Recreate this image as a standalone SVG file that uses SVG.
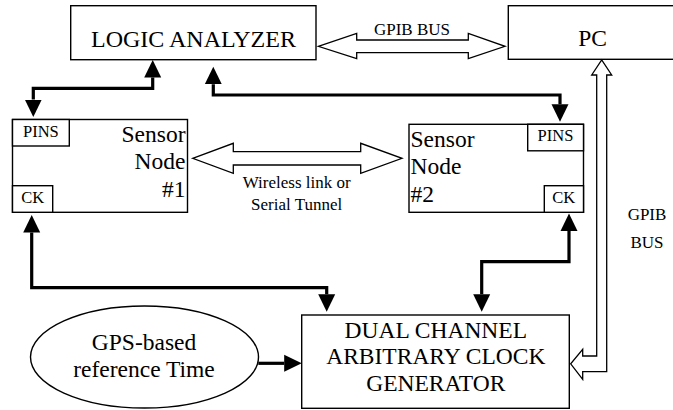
<svg xmlns="http://www.w3.org/2000/svg" width="673" height="410" viewBox="0 0 673 410">
<style>
.box{fill:#fff;stroke:#000;stroke-width:1.4}
.t{font-family:"Liberation Serif","Times New Roman",serif;fill:#000}
.big{font-size:23.5px}
.sm{font-size:16.5px}
.lb{font-size:17px}
.c{text-anchor:middle}
.conn{fill:none;stroke:#000;stroke-width:3.2;marker-start:url(#ah);marker-end:url(#ah)}
.one{fill:none;stroke:#000;stroke-width:3.2;marker-end:url(#ah)}
.bus{fill:#fff;stroke:#000;stroke-width:1.3;stroke-linejoin:miter}
</style>
<defs>
<marker id="ah" markerUnits="userSpaceOnUse" markerWidth="18" markerHeight="18" viewBox="0 -9 18 18" refX="0" refY="0" orient="auto-start-reverse">
<path d="M0,-8.5 L17.5,0 L0,8.5 Z" fill="#000"/>
</marker>
</defs>
<g id="logic-analyzer">
<rect class="box" x="70.7" y="5.7" width="245.3" height="54"/>
<text class="t big c" x="193.5" y="47" style="font-size:24px">LOGIC ANALYZER</text>
</g>
<g id="pc">
<rect class="box" x="508.3" y="5.7" width="170" height="53.6"/>
<text class="t big c" x="592.5" y="46">PC</text>
</g>
<g id="sensor-node-1">
<rect class="box" x="12.5" y="119.5" width="175" height="92.8"/>
<rect class="box" x="12.5" y="119.5" width="56.8" height="26.5"/>
<rect class="box" x="12.5" y="185.7" width="40.2" height="26.6"/>
<text class="t sm c" x="40.9" y="137">PINS</text>
<text class="t sm c" x="32.6" y="202.5">CK</text>
<text class="t big" x="185.5" y="142.3" text-anchor="end">Sensor</text>
<text class="t big" x="185.5" y="169" text-anchor="end">Node</text>
<text class="t big" x="185.5" y="196.7" text-anchor="end">#1</text>
</g>
<g id="sensor-node-2">
<rect class="box" x="409" y="124.3" width="174.5" height="88"/>
<rect class="box" x="527.7" y="124.3" width="55.8" height="26.5"/>
<rect class="box" x="544.3" y="185.7" width="39.2" height="26.6"/>
<text class="t sm c" x="555.5" y="141">PINS</text>
<text class="t sm c" x="563.8" y="203.3">CK</text>
<text class="t big" x="410.5" y="146.7">Sensor</text>
<text class="t big" x="410.5" y="174.3">Node</text>
<text class="t big" x="410.5" y="201.7">#2</text>
</g>
<g id="clock-generator">
<rect class="box" x="301.7" y="315" width="267.6" height="93.3"/>
<text class="t big c" x="435.8" y="338.3">DUAL CHANNEL</text>
<text class="t big c" x="435.8" y="364.3">ARBITRARY CLOCK</text>
<text class="t big c" x="435.8" y="391">GENERATOR</text>
</g>
<g id="gps-reference">
<ellipse class="box" cx="144.5" cy="357" rx="114" ry="51"/>
<text class="t big c" x="144" y="350">GPS-based</text>
<text class="t big c" x="144" y="376.7">reference Time</text>
</g>
<g id="connectors">
<path class="conn" d="M152.7,77.5 V88.3 H33.3 V99.5"/>
<path class="conn" d="M213.3,84.2 V95 H560 V104.2"/>
<path class="conn" d="M31.7,232.5 V287.7 H326.7 V294.2"/>
<path class="conn" d="M569,231 V261.7 H481.7 V294.2"/>
<path class="one" d="M258.3,363.3 H284.2"/>
<path class="bus" d="M318.3,46.3 L356.7,33.5 L356.7,40 L468.3,40 L468.3,33.5 L505,46.3 L468.3,58.5 L468.3,52.7 L356.7,52.7 L356.7,58.5 Z"/>
<path class="bus" d="M192.7,158.3 L233.3,143.3 L233.3,151.7 L360.7,151.7 L360.7,143.3 L402,158.3 L360.7,173.3 L360.7,165 L233.3,165 L233.3,173.3 Z"/>
<path class="bus" d="M596.7,356 L596.7,75 L591.7,75 L601.7,60 L611.7,75 L606.7,75 L606.7,371.7 L582.7,371.7 L582.7,379.3 L570.7,363.8 L582.7,349.3 L582.7,356 Z"/>
<text class="t lb c" x="412" y="35">GPIB BUS</text>
<text class="t lb c" x="296.7" y="188.3">Wireless link or</text>
<text class="t lb c" x="296.7" y="210">Serial Tunnel</text>
<text class="t lb c" x="647" y="220">GPIB</text>
<text class="t lb c" x="647" y="248">BUS</text>
</g>
</svg>
